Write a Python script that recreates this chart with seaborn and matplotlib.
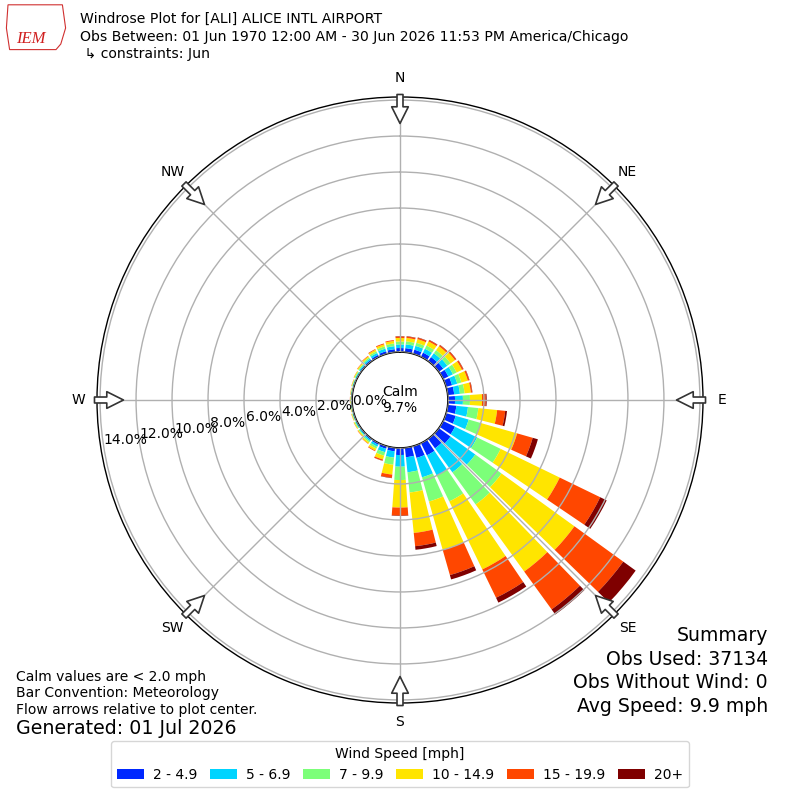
import numpy as np
import matplotlib.pyplot as plt
import seaborn as sns
from matplotlib.patches import Patch, Polygon

# directions (deg, meteorological) and speed bins
directions = np.arange(0, 360, 10)
speed_bins = ['2 - 4.9', '5 - 6.9', '7 - 9.9', '10 - 14.9', '15 - 19.9', '20+']
bin_colors = ['#0028ff', '#00d4ff', '#7cff79', '#ffe500', '#ff4700', '#7f0000']
dir_labels = ['N', 'NE', 'E', 'SE', 'S', 'SW', 'W', 'NW']
ring_values = [0, 2, 4, 6, 8, 10, 12, 14]
calm_pct = 9.7

pct_2_5 = [0.22, 0.23, 0.24, 0.26, 0.28, 0.30, 0.32, 0.34, 0.36, 0.39, 0.48, 0.55,
           0.73, 0.80, 0.65, 0.75, 0.68, 0.53, 0.39, 0.20, 0.15, 0.10, 0.08, 0.06,
           0.05, 0.04, 0.03, 0.03, 0.03, 0.04, 0.05, 0.07, 0.09, 0.12, 0.15, 0.17]
pct_5_7 = [0.20, 0.21, 0.22, 0.24, 0.26, 0.28, 0.28, 0.30, 0.32, 0.44, 0.65, 0.75,
           1.37, 1.70, 1.65, 1.25, 1.12, 0.84, 0.65, 0.35, 0.20, 0.12, 0.09, 0.06,
           0.05, 0.04, 0.03, 0.03, 0.03, 0.04, 0.05, 0.07, 0.09, 0.12, 0.15, 0.17]
pct_7_10 = [0.16, 0.17, 0.18, 0.20, 0.21, 0.22, 0.23, 0.24, 0.26, 0.39, 0.58, 0.70,
            1.45, 1.80, 2.20, 1.60, 1.40, 1.13, 0.74, 0.40, 0.20, 0.12, 0.08, 0.06,
            0.05, 0.03, 0.03, 0.03, 0.03, 0.03, 0.05, 0.06, 0.08, 0.10, 0.13, 0.15]
pct_10_15 = [0.20, 0.19, 0.21, 0.25, 0.27, 0.30, 0.33, 0.37, 0.35, 0.67, 1.05, 2.10,
             3.65, 5.00, 4.60, 4.20, 2.80, 2.26, 1.53, 0.55, 0.22, 0.12, 0.08, 0.05,
             0.04, 0.03, 0.02, 0.02, 0.02, 0.03, 0.04, 0.06, 0.07, 0.10, 0.12, 0.14]
pct_15_20 = [0.08, 0.08, 0.08, 0.08, 0.08, 0.08, 0.08, 0.08, 0.07, 0.21, 0.45, 0.90,
             2.50, 3.35, 2.60, 1.75, 1.45, 0.74, 0.45, 0.18, 0.07, 0.04, 0.02, 0.02,
             0.01, 0.01, 0.01, 0.01, 0.01, 0.01, 0.01, 0.02, 0.03, 0.04, 0.05, 0.05]
pct_20_up = [0.02, 0.02, 0.02, 0.02, 0.02, 0.02, 0.02, 0.02, 0.02, 0.05, 0.10, 0.30,
             0.40, 0.85, 0.35, 0.30, 0.25, 0.20, 0.02, 0.02, 0.01, 0.00, 0.00, 0.00,
             0.00, 0.00, 0.00, 0.00, 0.00, 0.00, 0.00, 0.00, 0.00, 0.00, 0.00, 0.00]
series = [pct_2_5, pct_5_7, pct_7_10, pct_10_15, pct_15_20, pct_20_up]

sns.set_style('white')
plt.rcParams['font.family'] = ['DejaVu Sans']
plt.rcParams['text.color'] = 'black'
plt.rcParams['xtick.color'] = 'black'
plt.rcParams['ytick.color'] = 'black'

fig = plt.figure(figsize=(8, 8), dpi=100)
ax = fig.add_axes([0.12125, 0.12125, 0.7575, 0.7575], projection='polar')
ax.set_theta_zero_location('N')
ax.set_theta_direction(-1)

# stacked bars
theta = np.deg2rad(directions)
bottom = np.zeros(len(directions))
for color, vals in zip(bin_colors, series):
    vals = np.array(vals)
    ax.bar(theta, vals, width=np.deg2rad(10) * 0.82, bottom=bottom,
           color=color, linewidth=0, zorder=1)
    bottom += vals

ax.set_ylim(0, 14.17)
ax.set_rorigin(-2.667)

# grid / ticks
ax.set_yticks(ring_values)
ax.set_yticklabels([f'{v:.1f}%' for v in ring_values], fontsize=10)
ax.set_rlabel_position(261)
ax.set_xticks(np.deg2rad(np.arange(0, 360, 45)))
ax.set_xticklabels(dir_labels, fontsize=10)
ax.tick_params(axis='x', pad=3)
ax.set_axisbelow(False)
ax.grid(True, color='#b0b0b0', lw=1)
ax.spines['polar'].set_color('black')
ax.spines['polar'].set_linewidth(1.0)
ax.spines['inner'].set_color('black')
ax.spines['inner'].set_linewidth(1.2)

# flow arrows
for ang in np.arange(0, 360, 45):
    ax.annotate('', xy=(np.deg2rad(ang), 12.70), xytext=(np.deg2rad(ang), 14.31),
                arrowprops=dict(arrowstyle='simple,head_length=12,head_width=12,tail_width=4.3',
                                mutation_scale=1, fc='white', ec='#333333', lw=1.2,
                                shrinkA=0, shrinkB=0),
                annotation_clip=False, zorder=5)

ax.text(0.5, 0.5, f'Calm\n{calm_pct}%', transform=ax.transAxes, ha='center',
        va='center', fontsize=10, zorder=6)

# header
fig.text(0.1, 0.976, 'Windrose Plot for [ALI] ALICE INTL AIRPORT', fontsize=10.1, va='center')
fig.text(0.1, 0.954, 'Obs Between: 01 Jun 1970 12:00 AM - 30 Jun 2026 11:53 PM America/Chicago',
         fontsize=10.1, va='center')
fig.text(0.1, 0.9325, ' \u21b3 constraints: Jun', fontsize=10.1, va='center')

# logo (rough)
logo = Polygon([(0.010, 0.994), (0.078, 0.994), (0.082, 0.965), (0.076, 0.945),
                (0.070, 0.938), (0.012, 0.938), (0.008, 0.965)], closed=True,
               transform=fig.transFigure, fill=False, ec='#d03030', lw=0.8)
fig.patches.append(logo)
fig.text(0.038, 0.951, 'IEM', fontsize=12, color='#d02020', style='italic',
         family=['Liberation Serif', 'DejaVu Serif'], ha='center', va='center')

# footer texts
fig.text(0.02, 0.154, 'Calm values are < 2.0 mph', fontsize=10, va='center')
fig.text(0.02, 0.134, 'Bar Convention: Meteorology', fontsize=10, va='center')
fig.text(0.02, 0.1125, 'Flow arrows relative to plot center.', fontsize=10, va='center')
fig.text(0.02, 0.089, 'Generated: 01 Jul 2026', fontsize=13.7, va='center')

fig.text(0.96, 0.206, 'Summary', fontsize=13.6, ha='right', va='center')
fig.text(0.96, 0.176, 'Obs Used: 37134', fontsize=13.6, ha='right', va='center')
fig.text(0.96, 0.1475, 'Obs Without Wind: 0', fontsize=13.6, ha='right', va='center')
fig.text(0.96, 0.1175, 'Avg Speed: 9.9 mph', fontsize=13.6, ha='right', va='center')

handles = [Patch(facecolor=c, edgecolor='none') for c in bin_colors]
leg = fig.legend(handles, speed_bins, loc='center', bbox_to_anchor=(0.5, 0.0445), ncol=6,
                 title='Wind Speed [mph]', fontsize=10, title_fontsize=10,
                 handlelength=1.95, handleheight=0.7, columnspacing=0.9,
                 handletextpad=0.65, frameon=True, edgecolor='#cccccc')

fig.savefig('out.png', dpi=100)
